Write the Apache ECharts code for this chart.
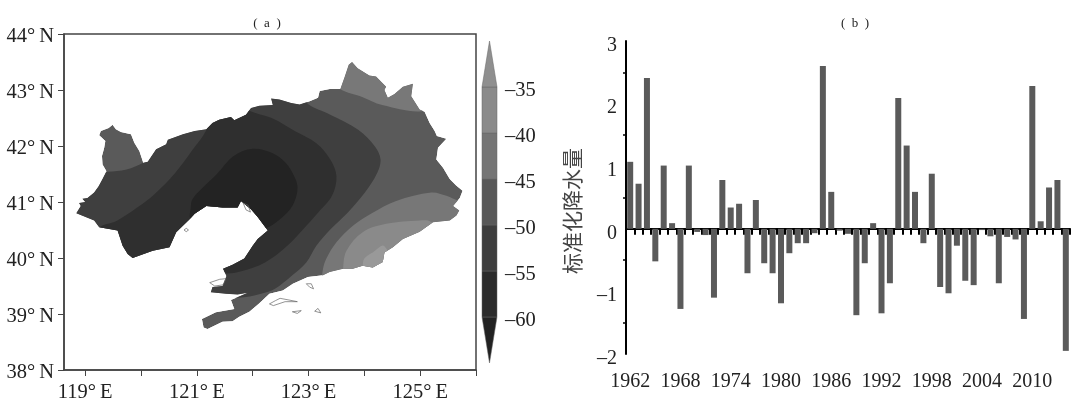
<!DOCTYPE html>
<html>
<head>
<meta charset="utf-8">
<title>chart</title>
<script src="https://cdn.jsdelivr.net/npm/echarts@6/dist/echarts.min.js"></script>
<style>
    html,body{margin:0;padding:0;background:#fff;}
    #main{width:1075px;height:403px;}
</style>
</head>
<body>
<div id="main"></div>
<script>
//(a) 轮廓和等值线，全部是经纬度 [lon, lat]
const provinceOutline = [[118.84,40.80],[118.92,40.93],[118.89,40.98],[119.00,41.00],[118.95,41.06],[119.04,41.07],[119.16,41.17],[119.24,41.28],[119.31,41.41],[119.38,41.55],[119.31,41.67],[119.30,41.82],[119.34,41.97],[119.36,42.09],[119.25,42.19],[119.28,42.27],[119.42,42.32],[119.49,42.38],[119.55,42.30],[119.64,42.25],[119.82,42.21],[119.88,42.06],[119.97,41.91],[120.04,41.70],[120.12,41.72],[120.27,41.94],[120.45,42.03],[120.48,42.11],[120.75,42.21],[120.96,42.27],[121.17,42.30],[121.28,42.41],[121.40,42.47],[121.61,42.52],[121.67,42.46],[121.88,42.56],[121.97,42.68],[122.12,42.72],[122.36,42.73],[122.33,42.85],[122.48,42.83],[122.69,42.77],[122.84,42.74],[123.02,42.80],[123.17,42.86],[123.20,42.98],[123.38,43.02],[123.57,43.02],[123.65,43.24],[123.72,43.45],[123.78,43.50],[123.88,43.39],[124.09,43.26],[124.21,43.24],[124.39,43.06],[124.36,43.00],[124.42,42.86],[124.54,42.93],[124.69,43.06],[124.87,43.11],[124.84,42.89],[124.99,42.65],[125.08,42.61],[125.17,42.41],[125.26,42.27],[125.30,42.18],[125.47,42.13],[125.32,41.97],[125.29,41.76],[125.41,41.61],[125.53,41.41],[125.65,41.29],[125.76,41.20],[125.71,41.07],[125.59,40.93],[125.70,40.85],[125.65,40.76],[125.53,40.67],[125.23,40.64],[124.99,40.47],[124.69,40.34],[124.51,40.19],[124.36,40.10],[124.33,39.93],[124.15,39.83],[123.97,39.86],[123.79,39.81],[123.62,39.81],[123.38,39.75],[123.26,39.69],[122.99,39.66],[122.72,39.54],[122.54,39.42],[122.30,39.36],[122.12,39.19],[121.94,39.04],[121.76,38.95],[121.64,38.87],[121.46,38.86],[121.19,38.73],[121.12,38.76],[121.09,38.91],[121.34,39.03],[121.67,39.09],[121.61,39.25],[121.91,39.38],[121.73,39.35],[121.52,39.36],[121.25,39.39],[121.28,39.48],[121.46,39.50],[121.53,39.68],[121.47,39.81],[121.64,39.88],[121.85,39.99],[122.00,40.22],[122.09,40.34],[122.27,40.49],[122.09,40.73],[121.97,40.87],[121.79,41.02],[121.73,40.90],[121.46,40.90],[121.17,40.93],[120.96,40.79],[120.87,40.69],[120.63,40.46],[120.51,40.19],[120.21,40.13],[119.85,40.00],[119.76,40.07],[119.67,40.22],[119.58,40.49],[119.25,40.55],[119.16,40.67]];
const bandNorth = [[123.58,43.01],[123.95,42.88],[124.32,42.73],[125.03,42.62],[125.49,42.82],[125.49,43.71],[123.45,43.71],[123.45,43.18]];
const bandMinus50 = [[119.40,41.54],[119.74,41.58],[120.04,41.70],[120.08,41.76],[120.36,42.82],[122.90,42.91],[122.99,42.75],[123.39,42.56],[123.89,42.29],[124.19,41.99],[124.29,41.76],[124.23,41.52],[124.01,41.17],[123.70,40.81],[123.39,40.51],[123.14,40.22],[122.96,39.92],[122.71,39.69],[122.40,39.45],[122.15,39.36],[121.72,39.29],[121.16,39.39],[120.55,39.86],[118.69,39.86],[118.69,41.52]];
const bandMinus55 = [[119.25,40.54],[119.56,40.66],[119.93,40.90],[120.24,41.14],[120.61,41.52],[120.92,41.93],[121.16,42.27],[121.29,42.70],[121.94,42.70],[121.94,42.63],[122.34,42.50],[122.77,42.26],[123.14,42.05],[123.39,41.76],[123.50,41.46],[123.42,41.11],[123.17,40.81],[122.90,40.51],[122.59,40.19],[122.22,39.92],[121.78,39.76],[121.47,39.73],[121.16,39.86],[119.62,39.86],[119.31,40.34]];
const bandMinus60 = [[120.89,40.69],[120.89,40.90],[120.92,41.05],[121.10,41.25],[121.35,41.49],[121.66,41.82],[122.00,41.95],[122.34,41.88],[122.59,41.70],[122.77,41.40],[122.80,41.20],[122.71,40.93],[122.52,40.72],[122.25,40.54],[121.78,40.46],[121.16,40.46]];
const bandMinus45 = [[123.24,39.60],[123.26,39.81],[123.32,39.99],[123.50,40.28],[123.80,40.58],[124.15,40.81],[124.57,41.02],[125.20,41.17],[125.47,41.11],[125.70,41.02],[125.95,41.00],[125.95,39.30],[123.26,39.30]];
const bandMinus40 = [[123.62,39.81],[123.68,40.13],[123.97,40.46],[124.39,40.61],[124.99,40.67],[125.20,40.64],[125.41,40.34],[125.41,39.45],[123.62,39.45]];
const bandMinus35 = [[123.97,39.84],[124.00,39.99],[124.15,40.10],[124.36,40.21],[124.69,39.45],[123.97,39.45]];
const islands = [
    [[121.23,39.56],[121.41,39.62],[121.52,39.63],[121.47,39.52],[121.32,39.50]],
    [[120.77,40.50],[120.81,40.53],[120.85,40.50],[120.81,40.47]],
    [[121.83,40.98],[121.92,40.94],[121.96,40.82],[121.88,40.86]],
    [[122.96,39.54],[123.05,39.54],[123.09,39.45],[123.02,39.48]],
    [[122.30,39.18],[122.41,39.24],[122.49,39.28],[122.65,39.25],[122.80,39.22],[122.58,39.22],[122.37,39.15]],
    [[122.71,39.04],[122.87,39.06],[122.80,39.01]],
    [[123.11,39.05],[123.17,39.10],[123.22,39.02]]
];
const mapBands = [provinceOutline, bandNorth, bandMinus50, bandMinus55, bandMinus60, bandMinus45, bandMinus40, bandMinus35];
const mapColors = ['#5a5a5a', '#787878', '#3f3f3f', '#2f2f2f', '#232323', '#777777', '#8a8a8a', '#999999'];

const lonTicks = [119,120,121,122,123,124,125,126];
const lonLabels = [119,121,123,125];

//色标
const barEdges = [-65,-60,-55,-50,-45,-40,-35,-30];
const barColors = ['#222222','#2b2b2b','#3d3d3d','#585858','#757575','#8a8a8a','#8f8f8f'];
const barLabels = [-60,-55,-50,-45,-40,-35];

//(b) 标准化降水量
const years = [];
for (let y = 1962; y <= 2014; y++) years.push(String(y));
const rainValues = [1.07,0.72,2.41,-0.52,1.01,0.09,-1.28,1.01,-0.05,-0.10,-1.10,0.78,0.34,0.40,-0.71,0.46,-0.55,-0.71,-1.19,-0.39,-0.23,-0.23,-0.07,2.60,0.59,-0.03,-0.08,-1.38,-0.55,0.09,-1.35,-0.87,2.09,1.33,0.59,-0.23,0.88,-0.93,-1.03,-0.27,-0.83,-0.90,-0.02,-0.12,-0.87,-0.13,-0.17,-1.44,2.28,0.12,0.66,0.78,-1.95];

const serif = '"Liberation Serif"';
const inkColor = '#222';
const dash = v => String(v).replace('-', '\u2013');

let chart = echarts.init(document.getElementById("main"));

let option = {
    animation: false,
    backgroundColor: '#fff',
    title: [
        {text: '(  a  )', left: 262, top: 12, textAlign: 'center', textStyle: {fontFamily: serif, fontSize: 13, fontWeight: 'normal', color: inkColor}},
        {text: '(  b  )', left: 850, top: 12, textAlign: 'center', textStyle: {fontFamily: serif, fontSize: 13, fontWeight: 'normal', color: inkColor}}
    ],
    grid: [
        {left: 64, top: 34, width: 412, height: 338, show: true, borderColor: '#444', borderWidth: 1.5, backgroundColor: '#fff'},
        {left: 482, top: 41, width: 15, height: 322},
        {left: 626, top: 41, width: 444, height: 313}
    ],
    xAxis: [
        {
            type: 'value', gridIndex: 0, min: 118.62, max: 126,
            splitLine: {show: false},
            axisLine: {lineStyle: {color: '#444', width: 1.5}},
            axisTick: {length: 6, customValues: lonTicks, lineStyle: {color: '#444', width: 1}},
            axisLabel: {customValues: lonLabels, margin: 12, fontFamily: serif, fontSize: 20.5, color: inkColor, formatter: v => v + '°\u2009E'}
        },
        {type: 'value', gridIndex: 1, min: 0, max: 1, show: false},
        {
            type: 'category', gridIndex: 2, data: years,
            axisLine: {onZero: true, lineStyle: {color: '#000', width: 2}},
            axisTick: {show: true, interval: 0, length: 6, lineStyle: {color: '#000', width: 2}},
            axisLabel: {show: false}
        },
        {
            type: 'category', gridIndex: 2, data: years, position: 'bottom',
            axisLine: {show: false, onZero: false},
            axisTick: {show: false},
            axisLabel: {interval: 5, margin: 18, fontFamily: serif, fontSize: 20, color: inkColor}
        }
    ],
    yAxis: [
        {
            type: 'value', gridIndex: 0, min: 38, max: 44, interval: 1,
            splitLine: {show: false},
            axisLine: {lineStyle: {color: '#444', width: 1.5}},
            axisTick: {length: 6, lineStyle: {color: '#444', width: 1}},
            axisLabel: {margin: 10, verticalAlign: 'top', lineHeight: 5, fontFamily: serif, fontSize: 20.5, color: inkColor, formatter: v => v + '°\u2009N'}
        },
        {
            type: 'value', gridIndex: 1, min: -65, max: -30, position: 'right',
            splitLine: {show: false},
            axisLine: {show: false},
            axisTick: {show: false},
            axisLabel: {customValues: barLabels, margin: 8, verticalAlign: 'top', lineHeight: 8, fontFamily: serif, fontSize: 20.5, color: inkColor, formatter: dash}
        },
        {
            type: 'value', gridIndex: 2, min: -2, max: 3, interval: 1,
            splitLine: {show: false},
            axisLine: {show: true, onZero: false, lineStyle: {color: '#000', width: 2}},
            axisTick: {length: 5, lineStyle: {color: '#000', width: 1.5}},
            minorTick: {show: true, splitNumber: 2, length: 3, lineStyle: {color: '#000', width: 1.5}},
            axisLabel: {margin: 9, verticalAlign: 'top', lineHeight: 9, fontFamily: serif, fontSize: 20, color: inkColor, formatter: dash}
        }
    ],
    graphic: [{
        type: 'text', x: 572, y: 211, rotation: Math.PI / 2,
        style: {text: '标准化降水量', fontFamily: '"Noto Sans CJK SC"', fontSize: 21, fill: '#444', align: 'center', verticalAlign: 'middle'}
    }],
    series: [
        {
            //分区填色，用省界裁剪
            type: 'custom', xAxisIndex: 0, yAxisIndex: 0, silent: true,
            data: mapBands.map((b, i) => [i]),
            renderItem: function (params, api) {
                let i = api.value(0);
                let clip = provinceOutline.map(p => api.coord(p));
                return {
                    type: 'polygon',
                    shape: {points: mapBands[i].map(p => api.coord(p)), smooth: i === 0 ? 0 : 0.35},
                    style: {fill: mapColors[i]},
                    clipPath: {type: 'polygon', shape: {points: clip}}
                };
            }
        },
        {
            //海岛
            type: 'custom', xAxisIndex: 0, yAxisIndex: 0, silent: true,
            data: islands.map((b, i) => [i]),
            renderItem: function (params, api) {
                return {
                    type: 'polygon',
                    shape: {points: islands[api.value(0)].map(p => api.coord(p))},
                    style: {fill: 'none', stroke: '#666', lineWidth: 0.7}
                };
            }
        },
        {
            //色标
            type: 'custom', xAxisIndex: 1, yAxisIndex: 1, silent: true,
            data: barColors.map((c, i) => [i]),
            renderItem: function (params, api) {
                let i = api.value(0);
                let lo = barEdges[i], hi = barEdges[i + 1];
                let pts;
                if (i === 0) {
                    pts = [[0, hi], [1, hi], [0.5, lo]];
                } else if (i === barColors.length - 1) {
                    pts = [[0, lo], [1, lo], [0.5, hi]];
                } else {
                    pts = [[0, lo], [1, lo], [1, hi], [0, hi]];
                }
                return {
                    type: 'polygon',
                    shape: {points: pts.map(p => api.coord(p))},
                    style: {fill: barColors[i], stroke: '#666', lineWidth: 0.5}
                };
            }
        },
        {
            type: 'bar', xAxisIndex: 2, yAxisIndex: 2, data: rainValues,
            barWidth: 6, silent: true,
            itemStyle: {color: '#5a5a5a'}
        }
    ]
};

chart.setOption(option);
</script>
</body>
</html>
